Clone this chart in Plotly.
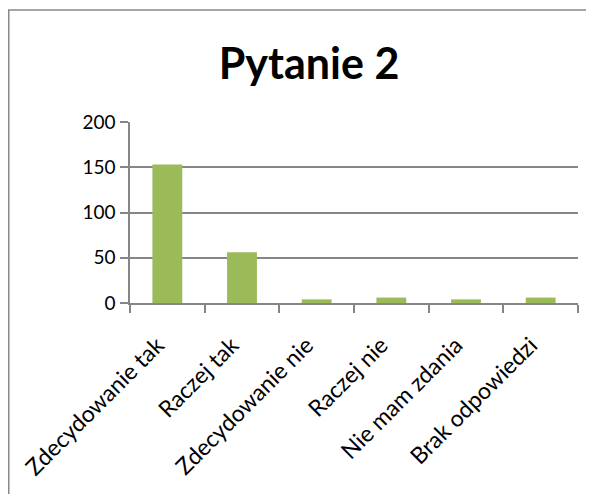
import plotly.graph_objects as go

categories = ["Zdecydowanie tak", "Raczej tak", "Zdecydowanie nie", "Raczej nie", "Nie mam zdania", "Brak odpowiedzi"]
values = [153, 56, 4, 6, 4, 6]
y_ticks = [0, 50, 100, 150, 200]

W, H = 594, 494
L, R, T, B = 122, 24, 114, 199
pw, ph = W - L - R, H - T - B

def px_x(x):
    return (x - L) / pw

def px_y(y):
    return (H - B - y) / ph

fig = go.Figure(go.Bar(x=categories, y=values, marker_color="#9BBB59", marker_line_width=0))

FONT = "Lato, Carlito, Calibri, sans-serif"

fig.update_layout(
    width=W, height=H,
    margin=dict(l=L, r=R, t=T, b=B),
    paper_bgcolor="white", plot_bgcolor="white",
    bargap=0.6,
    showlegend=False,
    title=dict(text="<b>Pytanie 2</b>", x=301 / W, xref="container", xanchor="center",
               y=1 - 56 / H, yref="container", yanchor="middle",
               font=dict(family=FONT, size=43, color="black")),
    font=dict(family=FONT, color="black"),
)
fig.update_xaxes(
    type="category", tickangle=-45, tickfont=dict(size=23, family=FONT, color="black"),
    showline=True, linecolor="#868686", linewidth=1.5,
    ticks="outside", ticklen=8, tickcolor="#868686", tickwidth=1.5,
    tickson="boundaries", showgrid=False, ticklabelstandoff=18, ticklabelshift=-10,
)
fig.update_yaxes(
    range=[0, 200], tickvals=y_ticks, tickfont=dict(size=19, family=FONT, color="black"),
    showline=True, linecolor="#868686", linewidth=1.5,
    ticks="outside", ticklen=8, tickcolor="#868686", tickwidth=1.5,
    showgrid=True, gridcolor="#868686", gridwidth=1.5, zeroline=False,
    ticklabelstandoff=1,
)
fig.add_shape(type="rect", xref="paper", yref="paper",
              x0=px_x(0.75), x1=px_x(W + 20), y0=px_y(2), y1=px_y(H + 20),
              line=dict(color="#888888", width=1.5), layer="below")

fig.write_html("out.html")
